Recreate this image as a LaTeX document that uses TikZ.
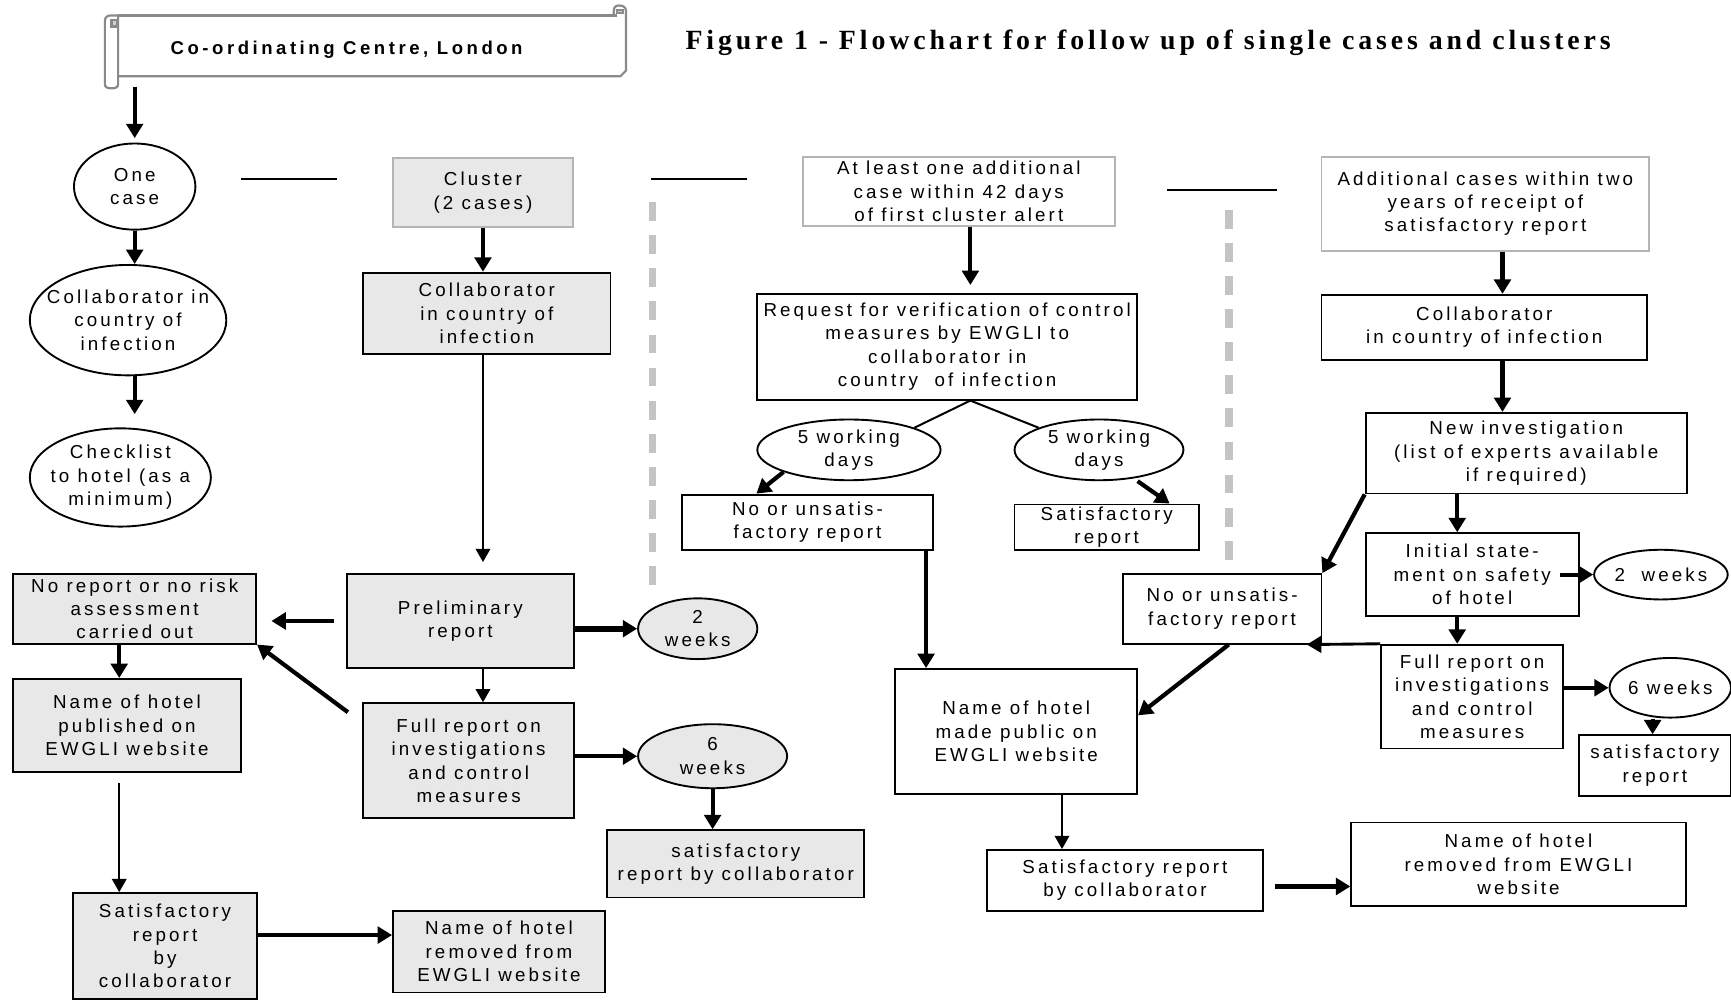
\documentclass[tikz,border=0pt]{standalone}
\usepackage{fontspec}
\setmainfont{Liberation Sans}
\newfontfamily\bodyf[LetterSpace=16.5]{Liberation Sans}
\newfontfamily\banf[LetterSpace=19]{Liberation Sans}
\newfontfamily\titlef[LetterSpace=14]{Liberation Serif}
\usetikzlibrary{arrows.meta,calc,shapes.geometric}
\definecolor{boxgray}{HTML}{E8E8E8}
\definecolor{linegray}{HTML}{B4B4B4}
\definecolor{dashgray}{HTML}{C4C4C4}
\definecolor{scrollgray}{HTML}{8A8A8A}
\newcommand\bfnt{\bodyf\fontsize{8.5}{10.6}\selectfont}
\newcommand\banfnt{\banf\bfseries\fontsize{8.4}{10}\selectfont}
\newcommand\titlefnt{\titlef\bfseries\fontsize{12.6}{14}\selectfont}
\begin{document}
\begin{tikzpicture}[x=0.5pt,y=-0.5pt,
  wh/.style 2 args={minimum width=#1*0.5pt, minimum height=#2*0.5pt},
  bx/.style={draw, line width=0.85pt, rectangle, align=center, inner sep=0pt, font=\bfnt},
  gbx/.style={bx, fill=boxgray},
  lbx/.style={bx, draw=linegray},
  ov/.style={draw, ellipse, line width=0.85pt, inner sep=0pt},
  ovt/.style={font=\bfnt, align=center, inner sep=0pt},
  arr/.style={-{Triangle[length=6.5pt,width=7.5pt]}, line width=1.9pt},
  tarr/.style={-{Triangle[length=6pt,width=6.5pt]}, line width=1.1pt},
  sep/.style={line width=0.9pt},
  dsh/.style={draw=dashgray, line width=3.5pt, dash pattern=on 8.5pt off 6.5pt},
  scr/.style={draw=scrollgray, line width=1pt},
]
\useasboundingbox[fill=white] (0,0) rectangle (1568,905);

% ---------- banner (scroll) ----------
\node[wh={460}{55}, inner sep=0pt] (banner) at (337,41.5) {};
\draw[scr] (107,14) -- (559,14);
\draw[scr] (556,14) -- (556,10) .. controls (556,6) and (558,5) .. (561,5) .. controls (565,5) and (567,7) .. (567,10) -- (567,64) -- (562,69) -- (107,69);
\draw[scr, fill=scrollgray!40] (559,9) -- (564,9) -- (564,12) -- (559,12) -- cycle;
\draw[scr, fill=white] (107,14) -- (100,14) .. controls (97,14) and (95,16) .. (95,19) -- (95,76) .. controls (95,79) and (97,80) .. (101,80) .. controls (105,80) and (107,79) .. (107,76) -- cycle;
\draw[scr, fill=scrollgray!40] (101,18) rectangle (106,24);
\node[font=\banfnt, inner sep=0pt] (bantext) at (314,45) {Co-ordinating Centre, London};
\node[font=\titlefnt, inner sep=0pt] (title) at (1040,39) {Figure 1 - Flowchart for follow up of single cases and clusters};

% ---------- column headers ----------
\node[ov, wh={110}{78}, label={[ovt]center:One\\case}] (onecase) at (122,169) {};
\node[gbx, draw=linegray, wh={163}{63}] (cluster) at (437.5,174.5) {Cluster\\(2 cases)};
\node[lbx, wh={283}{63}] (atleast) at (868.5,173.5) {At least one additional\\case within 42 days\\of first cluster alert};
\node[lbx, wh={297}{85}] (addl) at (1345.5,184.5) {Additional cases within two\\years of receipt of\\satisfactory report};

\coordinate (sepA1) at (218,162); \coordinate (sepA2) at (305,162);
\coordinate (sepB1) at (590,162); \coordinate (sepB2) at (677,162);
\coordinate (sepC1) at (1057,172); \coordinate (sepC2) at (1157,172);
\draw[sep] (sepA1) -- (sepA2);
\draw[sep] (sepB1) -- (sepB2);
\draw[sep] (sepC1) -- (sepC2);
\coordinate (dA1) at (591,183); \coordinate (dA2) at (591,532);
\coordinate (dB1) at (1113,190); \coordinate (dB2) at (1113,512);
\draw[dsh] (dA1) -- (dA2);
\draw[dsh] (dB1) -- (dB2);

% ---------- single case column ----------
\node[ov, wh={178}{100}, label={[ovt]center:Collaborator in\\country of\\infection}] (collab1) at (116,290) {};
\node[ov, wh={164}{89}, label={[ovt]center:Checklist\\to hotel (as a\\minimum)}] (check) at (109,432.5) {};

% ---------- cluster column ----------
\node[gbx, wh={224}{74}] (collab2) at (441,284) {Collaborator\\in country of\\infection};
\node[gbx, wh={206}{85}] (prelim) at (417,562.5) {Preliminary\\report};
\node[gbx, wh={220}{63}] (noreport) at (122,551.5) {No report or no risk\\assessment\\carried out};
\node[ov, fill=boxgray, wh={108}{55}, label={[ovt]center:2\\weeks}] (twoA) at (632,569.5) {};
\node[gbx, wh={191}{104}] (fullA) at (424.5,689) {Full report on\\investigations\\and control\\measures};
\node[ov, fill=boxgray, wh={135}{58}, label={[ovt]center:6\\weeks}] (sixA) at (645.5,685) {};
\node[gbx, wh={233}{61}] (satA) at (666.5,782.5) {satisfactory\\report by collaborator};
\node[gbx, wh={206}{84}] (namepub) at (115,657) {Name of hotel\\published on\\EWGLI website};
\node[gbx, wh={167}{96}] (satB) at (149.5,857) {Satisfactory\\report\\by\\collaborator};
\node[gbx, wh={192}{74}] (remA) at (452,862) {Name of hotel\\removed from\\EWGLI website};

% ---------- additional case column ----------
\node[bx, wh={344}{96}] (request) at (858,314) {Request for verification of control\\measures by EWGLI to\\collaborator in\\country\ \ of infection};
\node[ov, wh={166}{55}, label={[ovt]center:5 working\\days}] (fwdA) at (769,407.5) {};
\node[ov, wh={153}{55}, label={[ovt]center:5 working\\days}] (fwdB) at (995.5,407.5) {};
\node[bx, wh={227}{50}] (nounsatA) at (731.5,473) {No or unsatis-\\factory report};
\node[bx, wh={167}{41}] (satrepA) at (1002.5,477.5) {Satisfactory\\report};
\node[bx, wh={219}{113}] (namepublic) at (920.5,662.5) {Name of hotel\\made public on\\EWGLI website};
\node[bx, wh={250}{55}] (satC) at (1019,797.5) {Satisfactory report\\by collaborator};
\node[bx, wh={303}{76}] (remB) at (1375.5,783) {Name of hotel\\removed from EWGLI\\website};

% ---------- two-year column ----------
\node[bx, wh={295}{59}] (collab3) at (1344.5,296.5) {Collaborator\\in country of infection};
\node[bx, wh={291}{73}] (newinv) at (1382.5,410.5) {New investigation\\(list of experts available\\if required)};
\node[bx, wh={180}{63}] (nounsatB) at (1107,551.5) {No or unsatis-\\factory report};
\node[bx, wh={193}{75}] (initial) at (1333.5,520.5) {Initial state-\\ment on safety\\of hotel};
\node[ov, wh={121}{45}, label={[ovt]center:2\ \ weeks}] (twoB) at (1504.5,520.5) {};
\node[bx, wh={165}{94}] (fullB) at (1333.5,631) {Full report on\\investigations\\and control\\measures};
\node[ov, wh={110}{54}, label={[ovt]center:6 weeks}] (sixB) at (1513,623) {};
\node[bx, wh={138}{55}] (satrepB) at (1499,693.5) {satisfactory\\report};

% ---------- connectors: single case ----------
\draw[arr, shorten <=4.5pt, shorten >=2pt] (banner.south -| onecase.north) -- (onecase.north);
\draw[arr] (onecase.south) -- (onecase.south |- collab1.north);
\draw[arr, shorten >=6pt] (collab1.south -| onecase.south) -- (onecase.south |- check.north);

% ---------- connectors: cluster ----------
\draw[arr] (cluster.south) -- (cluster.south |- collab2.north);
\draw[tarr, shorten >=5pt] (collab2.south -| cluster.south) -- (cluster.south |- prelim.north);
\draw[arr, shorten <=5.5pt, shorten >=6.5pt] (prelim.west) -- (prelim.west -| noreport.east);
\draw[arr, line width=2.6pt] (prelim.east |- twoA.west) -- (twoA.west);
\draw[tarr] (prelim.south -| cluster.south) -- (cluster.south |- fullA.north);
\coordinate (fa1) at ($(fullA.north west)+(-13,9)$);
\draw[arr] (fa1) -- (noreport.south east);
\draw[arr] (fullA.east |- sixA.west) -- (sixA.west);
\draw[arr] (sixA.south) -- (sixA.south |- satA.north);
\coordinate (nr1) at ($(noreport.south)+(-14,0)$);
\draw[arr] (nr1) -- (nr1 |- namepub.north);
\coordinate (np1) at ($(namepub.south)+(-7,9)$);
\draw[tarr] (np1) -- (np1 |- satB.north);
\coordinate (sb1) at ($(satB.east)+(0,-10)$);
\draw[arr] (sb1) -- (sb1 -| remA.west);

% ---------- connectors: additional case ----------
\coordinate (al1) at ($(atleast.south)+(10.5,0)$);
\draw[arr, shorten >=3.5pt] (al1) -- (al1 |- request.north);
\coordinate (rq1) at ($(request.south)+(21,0)$);
\draw[line width=0.9pt] (rq1) -- (fwdA.north east);
\draw[line width=0.9pt] (rq1) -- (fwdB.north west);
\coordinate (nua) at ($(nounsatA.north west)+(68,0)$);
\draw[arr] (fwdA.south west) -- (nua);
\coordinate (fb1) at ($(fwdB.south)+(35,0)$);
\coordinate (sra) at ($(satrepA.north)+(57,0)$);
\draw[arr] (fb1) -- (sra);
\coordinate (nu1) at ($(nounsatA.south east)+(-7,0)$);
\draw[arr] (nu1) -- (nu1 |- namepublic.north);
\coordinate (npb1) at ($(namepublic.south)+(41.5,0)$);
\draw[tarr] (npb1) -- (npb1 |- satC.north);
\coordinate (sc1) at ($(satC.east)+(10,5.5)$);
\draw[arr] (sc1) -- (sc1 -| remB.west);

% ---------- connectors: two-year ----------
\coordinate (ad1) at ($(addl.south)+(15.5,0)$);
\draw[arr] (ad1) -- (ad1 |- collab3.north);
\coordinate (cb1) at ($(collab3.south)+(16.5,0)$);
\draw[arr] (cb1) -- (cb1 |- newinv.north);
\draw[arr] (newinv.south west) -- (nounsatB.north east);
\coordinate (ni1) at ($(newinv.south)+(-62.5,0)$);
\draw[arr] (ni1) -- (ni1 |- initial.north);
\coordinate (in1) at ($(initial.east)+(-18,0)$);
\draw[arr] (in1) -- (twoB.west);
\draw[arr] (ni1 |- initial.south) -- (ni1 |- fullB.north);
\coordinate (nub) at ($(nounsatB.south east)+(-14,0)$);
\draw[arr, line width=1.3pt] (fullB.north west) -- (nub);
\coordinate (nus) at ($(nounsatB.south)+(6,0)$);
\coordinate (npe) at ($(namepublic.east)+(0,-14.5)$);
\draw[arr] (nus) -- (npe);
\draw[arr] (fullB.east |- sixB.west) -- (sixB.west);
\coordinate (sx1) at ($(sixB.south)+(-16,0)$);
\draw[arr] (sx1) -- (sx1 |- satrepB.north);
\end{tikzpicture}
\end{document}
